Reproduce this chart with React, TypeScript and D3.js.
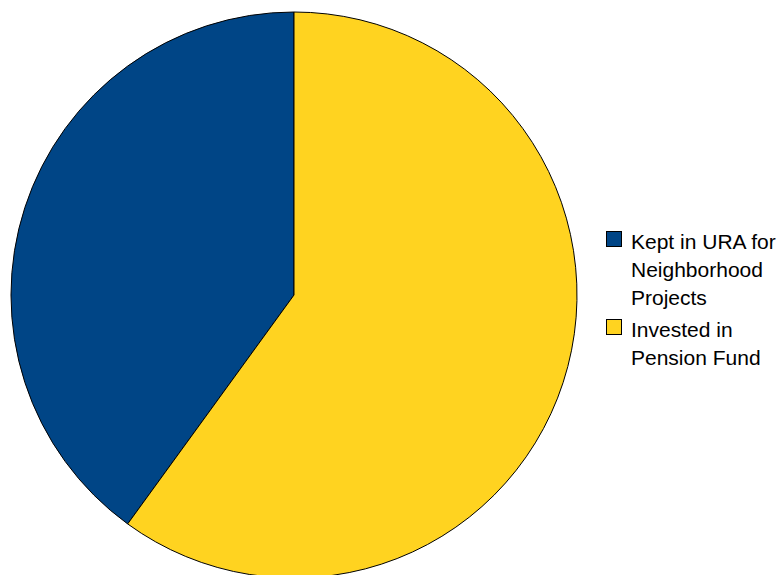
import React from "react";
import * as d3 from "d3";

const categories = ["Kept in URA for Neighborhood Projects", "Invested in Pension Fund"];
const values = [40, 60];
const colors = ["#004586", "#ffd320"];
const legendLines = [["Kept in URA for", "Neighborhood", "Projects"], ["Invested in", "Pension Fund"]];

export default function App() {
  const W = 781, H = 575;
  const cx = 294, cy = 295, r = 283;
  const pie = d3.pie<number>().sort(null).startAngle(0).endAngle(-2 * Math.PI);
  const arcs = pie(values);
  const arc = d3.arc<d3.PieArcDatum<number>>().innerRadius(0).outerRadius(r);
  const lh = 28;
  let y = 249;
  const legendItems = legendLines.map((lines, i) => {
    const base = y;
    y += lines.length * lh + 4;
    return { lines, base, i };
  });
  return (
    <svg width={W} height={H} style={{ position: "absolute", left: 0, top: 0 }} xmlns="http://www.w3.org/2000/svg">
      <rect width={W} height={H} fill="#ffffff" />
      <g transform={`translate(${cx},${cy})`}>
        {arcs.map((a, i) => (
          <path key={categories[i]} d={arc(a) || ""} fill={colors[i]} stroke="#000" strokeWidth={1} strokeLinejoin="round" />
        ))}
      </g>
      {legendItems.map(({ lines, base, i }) => (
        <g key={i}>
          <rect x={606.5} y={base - 17.5} width={15} height={15} fill={colors[i]} stroke="#000" strokeWidth={1} />
          <text fontFamily="'Liberation Sans', Arial, sans-serif" fontSize={21} fill="#000">
            {lines.map((l, j) => (
              <tspan key={j} x={631} y={base + j * lh}>{l}</tspan>
            ))}
          </text>
        </g>
      ))}
    </svg>
  );
}
